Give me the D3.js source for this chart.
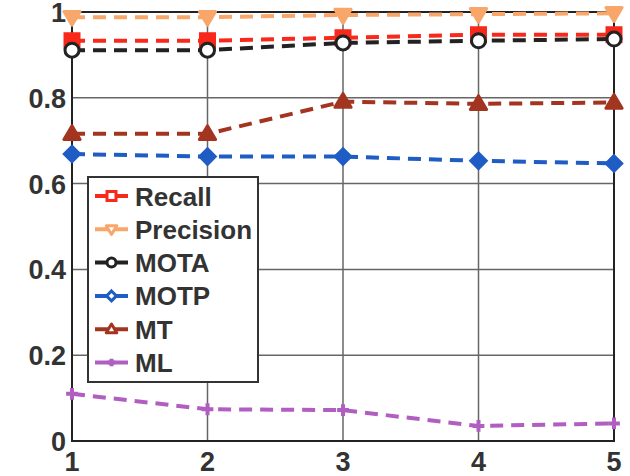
<!DOCTYPE html>
<html lang="en">
<head>
<meta charset="utf-8">
<title>Tracking metrics</title>
<script src="https://cdn.jsdelivr.net/npm/d3@7"></script>
<style>
body { margin: 0; background: #fff; }
text { font-family: Arial, "Liberation Sans", sans-serif; font-weight: bold; fill: #333; }
</style>
</head>
<body>
<script>
// data
var xs = [1, 2, 3, 4, 5];
var yTicks = [0, 0.2, 0.4, 0.6, 0.8, 1];
var recall    = [0.933, 0.933, 0.940, 0.947, 0.947];
var precision = [0.988, 0.988, 0.993, 0.995, 0.997];
var mota      = [0.911, 0.911, 0.928, 0.933, 0.937];
var motp      = [0.669, 0.663, 0.663, 0.653, 0.647];
var mt        = [0.716, 0.716, 0.791, 0.786, 0.789];
var ml        = [0.110, 0.074, 0.072, 0.035, 0.041];

var series = [
  { name: "Recall",    values: recall,    color: "#f8281a", marker: "square" },
  { name: "Precision", values: precision, color: "#f8a66a", marker: "triDown" },
  { name: "MOTA",      values: mota,      color: "#222222", marker: "circle" },
  { name: "MOTP",      values: motp,      color: "#1f5cc4", marker: "diamond" },
  { name: "MT",        values: mt,        color: "#a33520", marker: "triUp" },
  { name: "ML",        values: ml,        color: "#b05ec0", marker: "plus" }
];

var w = 630, h = 476;
var margin = { left: 72, right: 16, top: 12, bottom: 35 };

var svg = d3.select("body").append("svg")
  .attr("width", w)
  .attr("height", h);

var x = d3.scaleLinear().domain([1, 5]).range([margin.left, w - margin.right]);
var y = d3.scaleLinear().domain([0, 1]).range([h - margin.bottom, margin.top]);

// grid
svg.append("g").selectAll("line.gx")
  .data(xs.slice(1, -1))
  .enter().append("line")
  .attr("x1", function(d) { return x(d); }).attr("x2", function(d) { return x(d); })
  .attr("y1", y(0)).attr("y2", y(1))
  .style("stroke", "#666").style("stroke-width", 1.5);
svg.append("g").selectAll("line.gy")
  .data(yTicks.slice(1, -1))
  .enter().append("line")
  .attr("y1", function(d) { return y(d); }).attr("y2", function(d) { return y(d); })
  .attr("x1", x(1)).attr("x2", x(5))
  .style("stroke", "#666").style("stroke-width", 1.5);

// frame
svg.append("rect")
  .attr("x", x(1)).attr("y", y(1))
  .attr("width", x(5) - x(1)).attr("height", y(0) - y(1))
  .style("fill", "none").style("stroke", "#222").style("stroke-width", 2);

// tick labels
svg.append("g").selectAll("text")
  .data(yTicks)
  .enter().append("text")
  .attr("x", x(1) - 6)
  .attr("y", function(d) { return y(d) + 10; })
  .attr("text-anchor", "end")
  .style("font-size", "27px")
  .text(function(d) { return d3.format("~g")(d); });

svg.append("g").selectAll("text")
  .data(xs)
  .enter().append("text")
  .attr("x", function(d) { return x(d); })
  .attr("y", h - 5)
  .attr("text-anchor", "middle")
  .style("font-size", "27px")
  .text(function(d) { return d; });

function drawMarker(g, type, color, cx, cy, s, fill) {
  var sw = 3;
  if (type == "square") {
    g.append("rect").attr("x", cx - s/2).attr("y", cy - s/2).attr("width", s).attr("height", s)
      .style("fill", fill).style("stroke", color).style("stroke-width", sw);
  } else if (type == "circle") {
    g.append("circle").attr("cx", cx).attr("cy", cy).attr("r", s/2)
      .style("fill", "#fff").style("stroke", color).style("stroke-width", sw);
  } else if (type == "diamond") {
    var r = s * 0.55;
    g.append("path").attr("d", "M" + cx + "," + (cy - r) + "L" + (cx + r) + "," + cy + "L" + cx + "," + (cy + r) + "L" + (cx - r) + "," + cy + "Z")
      .style("fill", fill).style("stroke", color).style("stroke-width", sw);
  } else if (type == "triUp" || type == "triDown") {
    var r2 = s * 0.58, dir = type == "triUp" ? -1 : 1;
    g.append("path").attr("d", "M" + cx + "," + (cy + dir * r2) + "L" + (cx + r2) + "," + (cy - dir * r2 * 0.7) + "L" + (cx - r2) + "," + (cy - dir * r2 * 0.7) + "Z")
      .style("fill", fill).style("stroke", color).style("stroke-width", sw).style("stroke-linejoin", "round");
  } else if (type == "plus") {
    var r3 = s * 0.42;
    g.append("path").attr("d", "M" + (cx - r3) + "," + cy + "H" + (cx + r3) + "M" + cx + "," + (cy - r3) + "V" + (cy + r3))
      .style("stroke", color).style("stroke-width", 4);
  }
}

var line = d3.line()
  .x(function(d, i) { return x(xs[i]); })
  .y(function(d) { return y(d); });

series.forEach(function(s) {
  var g = svg.append("g");
  g.append("path")
    .datum(s.values)
    .attr("d", line)
    .style("fill", "none")
    .style("stroke", s.color)
    .style("stroke-width", 4)
    .style("stroke-dasharray", "13,8");
  s.values.forEach(function(v, i) {
    drawMarker(g, s.marker, s.color, x(xs[i]), y(v), 14, s.color);
  });
});

// legend
var lg = svg.append("g");
lg.append("rect")
  .attr("x", 88).attr("y", 177)
  .attr("width", 170).attr("height", 205)
  .style("fill", "#fff").style("stroke", "#333").style("stroke-width", 2);
series.forEach(function(s, i) {
  var cy = 196 + i * 33.3;
  var g = lg.append("g");
  g.append("line")
    .attr("x1", 95).attr("x2", 128).attr("y1", cy).attr("y2", cy)
    .style("stroke", s.color).style("stroke-width", 4);
  drawMarker(g, s.marker, s.color, 111.5, cy, 9, "#fff");
  g.append("text")
    .attr("x", 135).attr("y", cy + 9.5)
    .style("font-size", "26px")
    .text(s.name);
});
</script>
</body>
</html>
